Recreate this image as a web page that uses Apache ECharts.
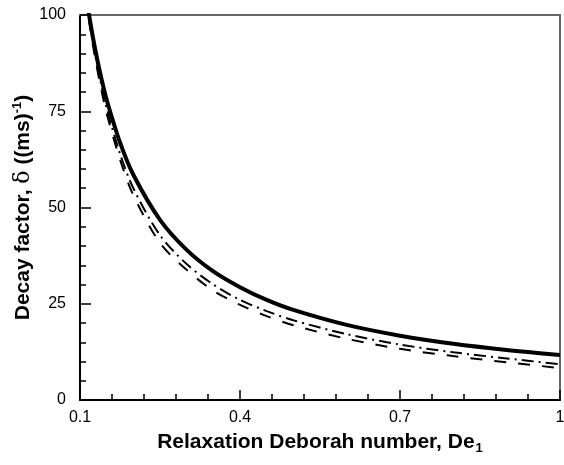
<!DOCTYPE html>
<html>
<head>
<meta charset="utf-8">
<script src="https://cdn.jsdelivr.net/npm/echarts@6/dist/echarts.min.js"></script>
<style>
  html, body { margin: 0; padding: 0; background: #fff; }
  #chart { width: 564px; height: 465px; }
</style>
</head>
<body>
<div id="chart"></div>
<script>
// Relaxation Deborah number De1
const deborah = [0.11, 0.12, 0.13, 0.14, 0.15, 0.175, 0.2, 0.25, 0.3, 0.35, 0.4, 0.45, 0.5, 0.6, 0.7, 0.8, 0.9, 1.0]
// decay factor curves
const solidCurve = [106.4, 97.5, 90, 83.6, 78, 66.9, 58.5, 46.8, 39, 33.4, 29.3, 26, 23.4, 19.5, 16.7, 14.6, 13, 11.7]
const dashDotCurve = [105.5, 96.5, 88.5, 81.8, 75.8, 64, 55, 42.8, 35.3, 30, 26, 23.1, 20.7, 17.1, 14.4, 12.4, 10.8, 9.3]
const dashedCurve = [105, 95.8, 87.6, 80.6, 74.4, 62.5, 53.2, 40.8, 33.8, 28.4, 24.7, 21.8, 19.4, 15.9, 13.3, 11.4, 9.8, 8.3]

const xMajorTicks = [0.1, 0.4, 0.7, 1]
const xMinorTicks = [0.16, 0.22, 0.28, 0.34, 0.46, 0.52, 0.58, 0.64, 0.76, 0.82, 0.88, 0.94]

const pair = (ys) => deborah.map((x, i) => [x, ys[i]])

const labelFont = { color: '#000', fontSize: 16, fontFamily: 'Liberation Sans, Arial, sans-serif' }
const nameFont = 'Liberation Sans, Arial, sans-serif'

const chart = echarts.init(document.getElementById('chart'))
chart.setOption({
  animation: false,
  grid: { left: 80, right: 4, top: 15, bottom: 65, outerBoundsMode: 'none' },
  xAxis: [
    {
      type: 'value',
      min: 0.1,
      max: 1,
      name: '{b|Relaxation Deborah number, De}{sub|1}',
      nameLocation: 'middle',
      nameGap: 30,
      nameMoveOverlap: false,
      nameTextStyle: {
        rich: {
          b: { fontSize: 21, fontWeight: 'bold', fontFamily: nameFont, color: '#000' },
          sub: { fontSize: 13, fontWeight: 'bold', fontFamily: nameFont, color: '#000', padding: [12, 0, 0, 1] }
        }
      },
      axisLine: { lineStyle: { color: '#000', width: 2 } },
      axisTick: { inside: true, length: 10, customValues: xMajorTicks, lineStyle: { color: '#000', width: 1.5 } },
      axisLabel: {
        ...labelFont,
        margin: 10,
        customValues: xMajorTicks,
        formatter: v => String(Math.round(v * 10) / 10)
      },
      splitLine: { show: false }
    },
    {
      // minor ticks only
      type: 'value',
      min: 0.1,
      max: 1,
      position: 'bottom',
      axisLine: { show: false },
      axisTick: { inside: true, length: 6, customValues: xMinorTicks, lineStyle: { color: '#000', width: 1.5 } },
      axisLabel: { show: false },
      splitLine: { show: false }
    },
    {
      type: 'value',
      min: 0.1,
      max: 1,
      position: 'top',
      axisLine: { lineStyle: { color: '#666', width: 2 } },
      axisTick: { show: false },
      axisLabel: { show: false },
      splitLine: { show: false }
    }
  ],
  yAxis: [
    {
      type: 'value',
      min: 0,
      max: 100,
      interval: 25,
      name: '{b|Decay factor, }{d|δ}{b| ((ms)}{sup|-1}{b|)}',
      nameLocation: 'middle',
      nameGap: 44,
      nameMoveOverlap: false,
      nameTextStyle: {
        rich: {
          b: { fontSize: 21, fontWeight: 'bold', fontFamily: nameFont, color: '#000' },
          d: { fontSize: 22, fontWeight: 'normal', fontFamily: 'DejaVu Serif, serif', color: '#000' },
          sup: { fontSize: 13, fontWeight: 'bold', fontFamily: nameFont, color: '#000', padding: [0, 0, 12, 0] }
        }
      },
      axisLine: { lineStyle: { color: '#000', width: 2 } },
      axisTick: { inside: true, length: 11, lineStyle: { color: '#000', width: 1.5 } },
      minorTick: { show: true, splitNumber: 5, length: 6, lineStyle: { color: '#000', width: 1.5 } },
      axisLabel: { ...labelFont, margin: 14 },
      splitLine: { show: false }
    },
    {
      type: 'value',
      min: 0,
      max: 100,
      position: 'right',
      axisLine: { show: true, lineStyle: { color: '#666', width: 2 } },
      axisTick: { show: false },
      axisLabel: { show: false },
      splitLine: { show: false }
    }
  ],
  series: [
    {
      name: 'solid',
      type: 'line',
      data: pair(solidCurve),
      smooth: 0.3,
      showSymbol: false,
      clip: true,
      lineStyle: { color: '#000', width: 4 }
    },
    {
      name: 'dash-dot',
      type: 'line',
      data: pair(dashDotCurve),
      smooth: 0.3,
      showSymbol: false,
      clip: true,
      lineStyle: { color: '#000', width: 2, type: [12, 5, 2, 5] }
    },
    {
      name: 'dashed',
      type: 'line',
      data: pair(dashedCurve),
      smooth: 0.3,
      showSymbol: false,
      clip: true,
      lineStyle: { color: '#000', width: 2, type: [12, 12] }
    }
  ]
})
</script>
</body>
</html>
